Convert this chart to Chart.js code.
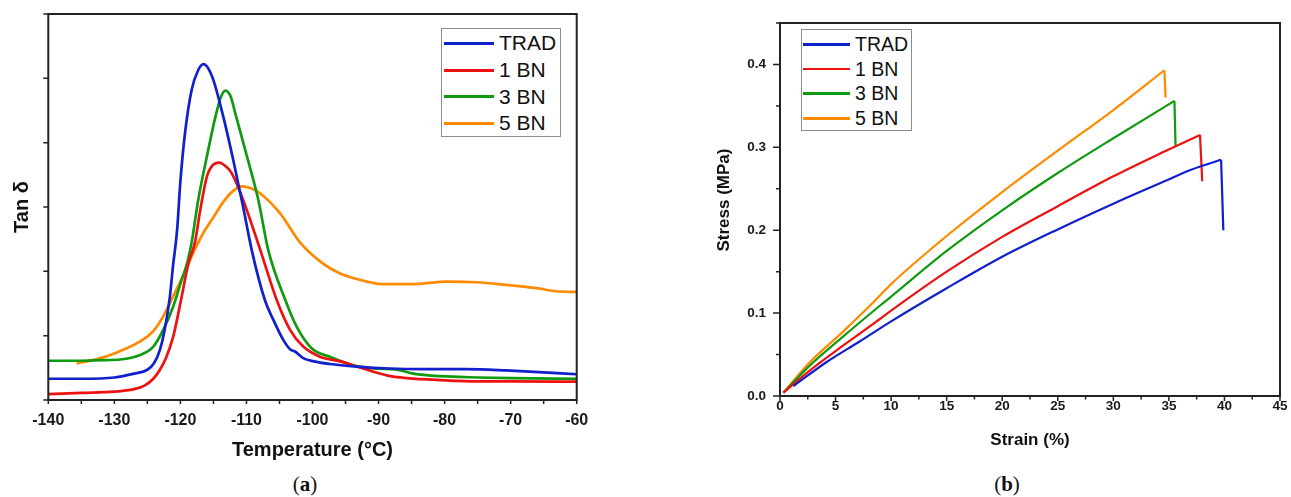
<!DOCTYPE html>
<html>
<head>
<meta charset="utf-8">
<script src="https://cdn.jsdelivr.net/npm/chart.js@4.4.1/dist/chart.umd.min.js"></script>
<style>
body { margin: 0; background: #fff; width: 1291px; height: 497px; position: relative; overflow: hidden; font-family: 'Liberation Sans', Arial, sans-serif; }
canvas { position: absolute; top: 0; }
#chartA { left: 0; }
#chartB { left: 700px; }
.legend { position: absolute; border: 1px solid #8c8c8c; background: #fff; box-sizing: border-box; color: #111; }
.legend .row { display: flex; align-items: center; white-space: nowrap; }
.legend .swatch { display: inline-block; }
#legendA { left: 441px; top: 28px; width: 120px; height: 109px; padding: 1px 0 0 2px; font-size: 21px; }
#legendA .row { height: 26.7px; }
#legendA .swatch { width: 50px; height: 3px; margin-right: 5px; }
#legendB { left: 801px; top: 29px; width: 111px; height: 102px; padding: 2px 0 0 1px; font-size: 19.5px; }
#legendB .row { height: 24.7px; }
#legendB .swatch { width: 47px; height: 2.5px; margin-right: 5px; }
.cap { position: absolute; top: 472px; font-family: 'Liberation Serif', 'DejaVu Serif', serif; font-size: 21px; color: #111; transform: translateX(-50%); }
</style>
</head>
<body>
<canvas id="chartA" width="600" height="470"></canvas>
<canvas id="chartB" width="591" height="470"></canvas>
<div id="legendA" class="legend"></div>
<div id="legendB" class="legend"></div>
<div class="cap" style="left:305px">(<b>a</b>)</div>
<div class="cap" style="left:1007px">(<b>b</b>)</div>
<script>
// Series names (shared by both panels)
const seriesNames = ['TRAD', '1 BN', '3 BN', '5 BN'];

// (a) Tan delta vs temperature
const tempTRAD = [-140, -135, -130, -127, -125, -124, -123.1, -122.4, -121.6, -121.1, -120.5, -120, -119.3, -118.3, -117.3, -116.5, -115.2, -113.5, -112, -110.5, -109.2, -107.2, -105.9, -104.4, -103.4, -102.6, -101.4, -99.8, -97.4, -93.3, -88.3, -83.3, -76.7, -70.7, -65, -60];
const tanTRAD  = [0.33, 0.33, 0.35, 0.41, 0.47, 0.57, 0.78, 1.08, 1.6, 2.1, 2.64, 3.4, 4.15, 4.82, 5.13, 5.22, 5.03, 4.4, 3.73, 3.0, 2.33, 1.55, 1.24, 0.93, 0.79, 0.75, 0.65, 0.6, 0.56, 0.52, 0.49, 0.48, 0.48, 0.46, 0.43, 0.4];

const temp1BN = [-140, -135, -130, -127, -125.5, -124.1, -123.1, -122.2, -121.1, -119.8, -118.8, -117.8, -117, -116, -115, -114.1, -113, -112.2, -110.5, -107.9, -105.4, -103.4, -101.4, -98.8, -95.8, -93.3, -90.8, -88.2, -85.7, -80.7, -75, -70, -60];
const tan1BN  = [0.09, 0.11, 0.13, 0.17, 0.22, 0.33, 0.47, 0.65, 0.98, 1.61, 2.12, 2.45, 2.95, 3.47, 3.66, 3.69, 3.62, 3.52, 3.11, 2.33, 1.55, 1.09, 0.83, 0.67, 0.6, 0.52, 0.44, 0.37, 0.34, 0.31, 0.29, 0.29, 0.285];

const temp3BN = [-140, -135, -132, -129.1, -126.1, -124.1, -122.6, -121.1, -119.8, -119, -118.3, -117.3, -116, -114.7, -113.9, -113.2, -112.4, -111.7, -109.9, -108.2, -106.7, -104.1, -102.4, -100.1, -97.3, -93.8, -90.8, -87.2, -84.7, -80.7, -75, -70, -60];
const tan3BN  = [0.61, 0.61, 0.62, 0.63, 0.7, 0.83, 1.09, 1.45, 1.87, 2.12, 2.45, 3.11, 3.78, 4.4, 4.7, 4.81, 4.72, 4.46, 3.78, 3.11, 2.33, 1.55, 1.14, 0.8, 0.67, 0.54, 0.49, 0.47, 0.41, 0.37, 0.35, 0.34, 0.33];

const temp5BN = [-135.7, -132.5, -129.6, -126.1, -124.1, -122.6, -121.1, -119.5, -118, -116.5, -115, -113.5, -112, -110.7, -109.3, -107.9, -104.9, -101.9, -98.4, -95.9, -93.3, -90.3, -88.3, -85.8, -83.3, -79.7, -75.2, -70.7, -66.1, -63.1, -60];
const tan5BN  = [0.57, 0.64, 0.74, 0.91, 1.07, 1.3, 1.61, 1.95, 2.3, 2.6, 2.84, 3.08, 3.25, 3.32, 3.29, 3.21, 2.9, 2.45, 2.12, 1.97, 1.88, 1.81, 1.8, 1.8, 1.81, 1.84, 1.83, 1.79, 1.74, 1.69, 1.68];

// (b) Stress vs strain (last point of each = value after break)
const strainTRAD = [1.2, 4.2, 7.2, 10, 15, 20, 25, 30, 34.6, 37, 39.7, 39.9];
const stressTRAD = [0.012, 0.041, 0.066, 0.09, 0.13, 0.168, 0.201, 0.232, 0.259, 0.273, 0.285, 0.2];

const strain1BN = [0.3, 2.7, 5.7, 8.9, 10, 15, 20, 25, 30, 34.6, 37.8, 38.0];
const stress1BN = [0.004, 0.031, 0.061, 0.092, 0.103, 0.15, 0.192, 0.229, 0.265, 0.295, 0.315, 0.259];

const strain3BN = [0.3, 2.7, 5.7, 8.9, 10, 15, 20, 25, 30, 35.5, 35.6];
const stress3BN = [0.004, 0.037, 0.072, 0.108, 0.12, 0.175, 0.224, 0.269, 0.311, 0.356, 0.301];

const strain5BN = [0.3, 2.7, 5.7, 8.4, 10, 15, 20, 25, 30, 34.6, 34.7];
const stress5BN = [0.004, 0.041, 0.078, 0.113, 0.135, 0.193, 0.246, 0.296, 0.345, 0.393, 0.36];

const colors = ['#1020cc', '#ee1111', '#109a10', '#ff8a00'];
const fontFam = "'Liberation Sans', Arial, sans-serif";

const toPoints = (xs, ys) => xs.map((x, i) => ({ x, y: ys[i] }));

function lineSet(idx, xs, ys, width) {
    return {
        label: seriesNames[idx],
        data: toPoints(xs, ys),
        borderColor: colors[idx],
        backgroundColor: colors[idx],
        borderWidth: width,
        pointRadius: 0,
        fill: false,
        cubicInterpolationMode: 'monotone'
    };
}

// curve up to the break (smooth) + the straight drop after it
function tensileSets(idx, xs, ys, width) {
    const curve = lineSet(idx, xs.slice(0, -1), ys.slice(0, -1), width);
    const drop = lineSet(idx, xs.slice(-2), ys.slice(-2), width);
    drop.cubicInterpolationMode = 'default';
    drop.tension = 0;
    drop.isBreak = true;
    return [curve, drop];
}

// Box frame + outward tick marks
const framePlugin = {
    id: 'frame',
    afterDraw(chart, args, o) {
        const { ctx, chartArea: a, scales: { x, y } } = chart;
        ctx.save();
        ctx.strokeStyle = '#222';
        ctx.lineWidth = 2;
        ctx.strokeRect(a.left, a.top, a.right - a.left, a.bottom - a.top);
        ctx.lineWidth = 1.5;
        ctx.beginPath();
        const nx = Math.round((x.max - x.min) / o.xStep);
        for (let i = 0; i <= nx; i++) {
            const v = x.min + i * o.xStep;
            const major = i % o.xEvery === 0;
            const px = x.getPixelForValue(v);
            ctx.moveTo(px, a.bottom);
            ctx.lineTo(px, a.bottom + (major ? o.xMajorLen : o.xMinorLen));
        }
        const ny = Math.floor((y.max - y.min) / o.yStep + 1e-6);
        for (let i = 0; i <= ny; i++) {
            const v = y.min + i * o.yStep;
            const major = i % o.yEvery === 0;
            const py = y.getPixelForValue(v);
            ctx.moveTo(a.left, py);
            ctx.lineTo(a.left - (major ? o.yMajorLen : o.yMinorLen), py);
        }
        ctx.stroke();
        ctx.restore();
    }
};

function buildLegend(chart, el) {
    el.innerHTML = chart.data.datasets.filter(ds => !ds.isBreak).map(ds => `
        <div class="row"><span class="swatch" style="background:${ds.borderColor}"></span>${ds.label}</div>
    `).join('');
}

const noGrid = { display: false, drawTicks: false };

// Panel (a)
const chartA = new Chart(document.getElementById('chartA'), {
    type: 'line',
    data: {
        datasets: [
            lineSet(0, tempTRAD, tanTRAD, 2.7),
            lineSet(1, temp1BN, tan1BN, 2.7),
            lineSet(2, temp3BN, tan3BN, 2.7),
            lineSet(3, temp5BN, tan5BN, 2.7)
        ]
    },
    plugins: [framePlugin],
    options: {
        responsive: false,
        animation: false,
        devicePixelRatio: 1,
        layout: { padding: { top: 14, right: 23.3, left: 0, bottom: 0 } },
        plugins: {
            legend: { display: false },
            tooltip: { enabled: false },
            frame: { xStep: 5, xEvery: 2, xMajorLen: 4, xMinorLen: 4, yStep: 1, yEvery: 1, yMajorLen: 5, yMinorLen: 5 }
        },
        scales: {
            x: {
                type: 'linear', min: -140, max: -60,
                grid: noGrid, border: { display: false },
                ticks: { stepSize: 10, padding: 11, maxRotation: 0, color: '#1a1a1a', font: { family: fontFam, size: 16, weight: 'bold' }, callback: v => String(v) },
                title: { display: true, text: 'Temperature (°C)', color: '#111', font: { family: fontFam, size: 20, weight: 'bold' }, padding: { top: 0, bottom: 7.3 } },
                afterFit(s) { s.height = 70; }
            },
            y: {
                min: 0, max: 6,
                grid: noGrid, border: { display: false },
                ticks: { display: false, stepSize: 1 },
                title: { display: true, text: 'Tan δ', color: '#111', font: { family: fontFam, size: 20, weight: 'bold' }, padding: { top: 10.5, bottom: 0 } },
                afterFit(s) { s.width = 48.3; }
            }
        }
    }
});

// Panel (b)
const chartB = new Chart(document.getElementById('chartB'), {
    type: 'line',
    data: {
        datasets: [
            ...tensileSets(0, strainTRAD, stressTRAD, 2.2),
            ...tensileSets(1, strain1BN, stress1BN, 2.2),
            ...tensileSets(2, strain3BN, stress3BN, 2.2),
            ...tensileSets(3, strain5BN, stress5BN, 2.2)
        ]
    },
    plugins: [framePlugin],
    options: {
        responsive: false,
        animation: false,
        devicePixelRatio: 1,
        layout: { padding: { top: 23, right: 11, left: 0, bottom: 0 } },
        plugins: {
            legend: { display: false },
            tooltip: { enabled: false },
            frame: { xStep: 2.5, xEvery: 2, xMajorLen: 5, xMinorLen: 3.5, yStep: 0.05, yEvery: 2, yMajorLen: 7, yMinorLen: 4 }
        },
        scales: {
            x: {
                type: 'linear', min: 0, max: 45,
                grid: noGrid, border: { display: false },
                ticks: { stepSize: 5, padding: 2.5, maxRotation: 0, color: '#1a1a1a', font: { family: fontFam, size: 13.5, weight: 'bold' }, callback: v => String(v) },
                title: { display: true, text: 'Strain (%)', color: '#111', font: { family: fontFam, size: 17, weight: 'bold' }, padding: { top: 0, bottom: 19 } },
                afterFit(s) { s.height = 74; }
            },
            y: {
                min: 0, max: 0.45,
                grid: noGrid, border: { display: false },
                ticks: { stepSize: 0.1, includeBounds: false, padding: 14, color: '#1a1a1a', font: { family: fontFam, size: 13.5, weight: 'bold' }, callback: v => v.toFixed(1) },
                title: { display: true, text: '    Stress (MPa)', color: '#111', font: { family: fontFam, size: 17, weight: 'bold' }, padding: { top: 14.3, bottom: 0 } },
                afterFit(s) { s.width = 80; }
            }
        }
    }
});

buildLegend(chartA, document.getElementById('legendA'));
buildLegend(chartB, document.getElementById('legendB'));
</script>
</body>
</html>
